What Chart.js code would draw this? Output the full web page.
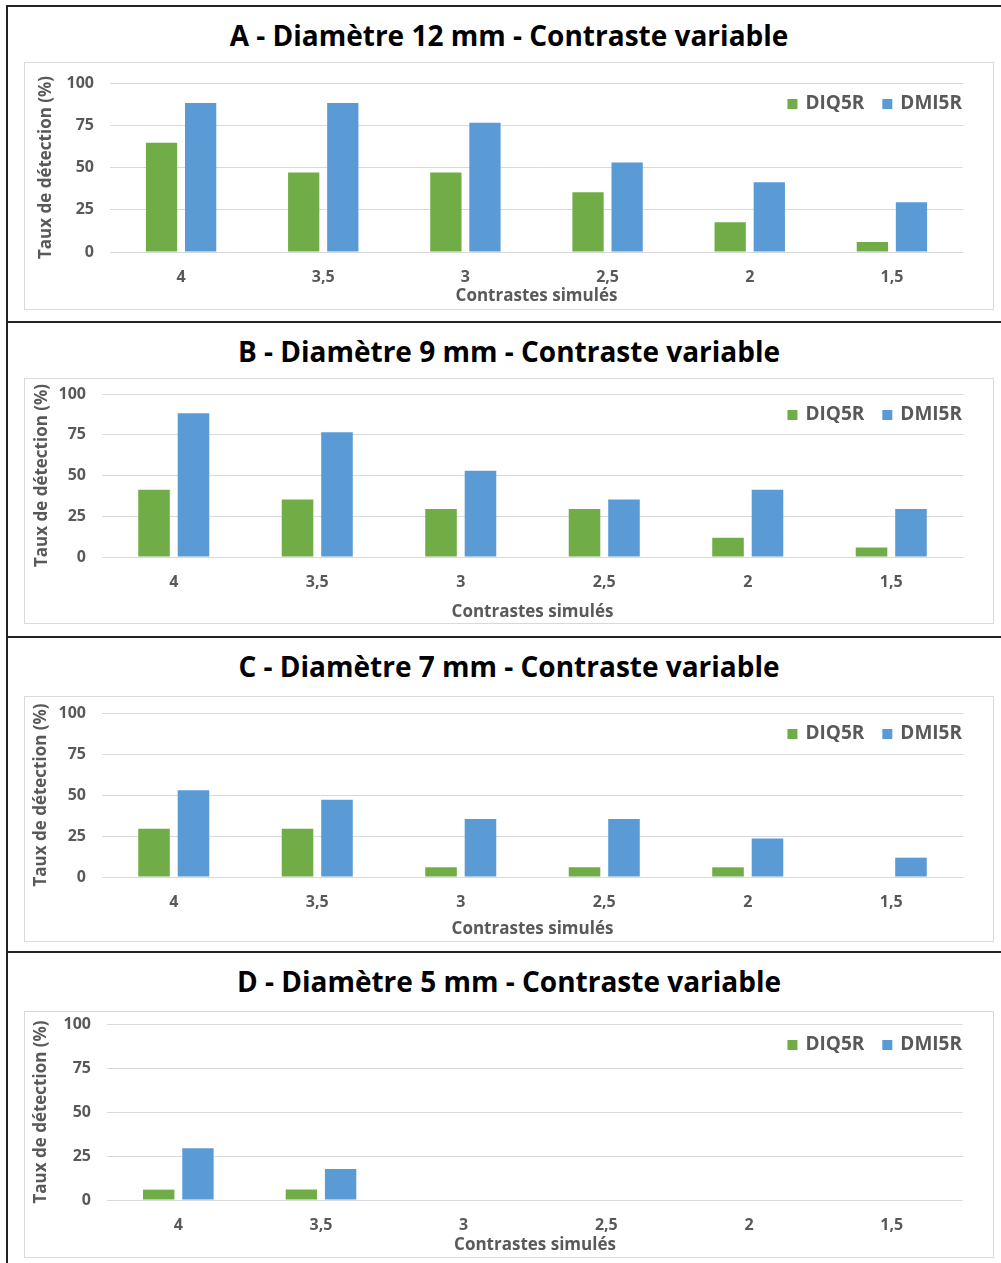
<!DOCTYPE html>
<html>
<head>
<meta charset="utf-8">
<script src="https://cdn.jsdelivr.net/npm/chart.js@4.4.1/dist/chart.umd.min.js"></script>
<style>
  body { margin: 0; background: #fff; width: 1001px; height: 1263px; position: relative; overflow: hidden; font-family: "Open Sans", sans-serif; }
  .panel { position: absolute; left: 6px; width: 995px; border-top: 2px solid #222; border-left: 2px solid #222; box-sizing: border-box; }
  .title { position: absolute; left: 24px; width: 970px; height: 30px; line-height: 30px; text-align: center; font-weight: 700; font-size: 28px; color: #000; white-space: nowrap; }
  .box { position: absolute; left: 24px; width: 970px; border: 1px solid #d9d9d9; box-sizing: border-box; }
  canvas { display: block; }
</style>
</head>
<body>
<script>
const categories = ["4", "3,5", "3", "2,5", "2", "1,5"];
const seriesNames = ["DIQ5R", "DMI5R"];
const seriesColors = ["#70ad47", "#5b9bd5"];
const titles = [
  "A - Diamètre 12 mm - Contraste variable",
  "B - Diamètre 9 mm - Contraste variable",
  "C - Diamètre 7 mm - Contraste variable",
  "D - Diamètre 5 mm - Contraste variable"
];
const yTitle = "Taux de détection (%)";
const xTitle = "Contrastes simulés";
const yMin = 0, yMax = 100, yStep = 25;

// detection rates (%), one pair per panel
const diq5rA = [64.7, 47.1, 47.1, 35.3, 17.6, 5.9];
const dmi5rA = [88.2, 88.2, 76.5, 52.9, 41.2, 29.4];
const diq5rB = [41.2, 35.3, 29.4, 29.4, 11.8, 5.9];
const dmi5rB = [88.2, 76.5, 52.9, 35.3, 41.2, 29.4];
const diq5rC = [29.4, 29.4, 5.9, 5.9, 5.9, 0];
const dmi5rC = [52.9, 47.1, 35.3, 35.3, 23.5, 11.8];
const diq5rD = [5.9, 5.9, 0, 0, 0, 0];
const dmi5rD = [29.4, 17.6, 0, 0, 0, 0];

const panelData = [[diq5rA, dmi5rA], [diq5rB, dmi5rB], [diq5rC, dmi5rC], [diq5rD, dmi5rD]];

// page layout of each panel (page pixels)
const layout = [
  { top: 5,   height: 317, titleY: 20,  boxTop: 62,   boxH: 248, plotL: 110, plotT: 83,   plotB: 252,  xTitleY: 296,  yTitleX: 46 },
  { top: 321, height: 316, titleY: 336, boxTop: 378,  boxH: 246, plotL: 102, plotT: 394,  plotB: 557,  xTitleY: 612,  yTitleX: 42 },
  { top: 636, height: 316, titleY: 651, boxTop: 696,  boxH: 246, plotL: 102, plotT: 713,  plotB: 877,  xTitleY: 929,  yTitleX: 41 },
  { top: 951, height: 320, titleY: 966, boxTop: 1011, boxH: 247, plotL: 107, plotT: 1024, plotB: 1200, xTitleY: 1245, yTitleX: 41 }
];

const grey = "#595959";
const gridColor = "#d9d9d9";
const tickFont = { family: "Open Sans", size: 16, weight: "700" };
const axisTitleFont = { family: "Open Sans", size: 17, weight: "700" };

const cornerLegend = {
  id: "cornerLegend",
  afterDraw(chart, args, opts) {
    const { ctx, chartArea } = chart;
    ctx.save();
    ctx.font = "700 19px 'Open Sans'";
    ctx.textBaseline = "middle";
    let x = chartArea.right - 1;
    const y = chartArea.top + opts.offset;
    chart.data.datasets.slice().reverse().forEach(ds => {
      const w = ctx.measureText(ds.label).width;
      x -= w;
      ctx.fillStyle = grey;
      ctx.fillText(ds.label, x, y);
      x -= 8 + 10;
      ctx.fillStyle = ds.backgroundColor;
      ctx.fillRect(x, y - 5, 10, 10);
      x -= 18;
    });
    ctx.restore();
  }
};

layout.forEach((L, i) => {
  let panel = document.createElement("div");
  panel.className = "panel";
  panel.style.top = L.top + "px";
  panel.style.height = L.height + "px";
  document.body.appendChild(panel);

  let title = document.createElement("div");
  title.className = "title";
  title.style.top = L.titleY + "px";
  title.textContent = titles[i];
  document.body.appendChild(title);

  let box = document.createElement("div");
  box.className = "box";
  box.style.top = L.boxTop + "px";
  box.style.height = L.boxH + "px";
  document.body.appendChild(box);

  // canvas coordinates
  const cx = 25, cy = L.boxTop + 1;
  const H = L.boxH - 2;
  const padTop = L.plotT - cy;
  const bottom = L.plotB - cy;
  const xAxisH = (L.xTitleY - L.plotB) + 10.2;
  const padBottom = H - bottom - xAxisH;
  const yAxisW = L.plotL - cx;
  const yTitlePad = (L.yTitleX - cx) - 10.2;

  let canvas = document.createElement("canvas");
  canvas.width = 968;
  canvas.height = H;
  canvas.style.width = "968px";
  canvas.style.height = H + "px";
  box.appendChild(canvas);

  new Chart(canvas, {
    type: "bar",
    data: {
      labels: categories,
      datasets: seriesNames.map((name, k) => ({
        label: name,
        data: panelData[i][k],
        backgroundColor: seriesColors[k],
        borderWidth: 0,
        categoryPercentage: 0.55,
        barPercentage: 0.8
      }))
    },
    options: {
      responsive: false,
      animation: false,
      layout: { padding: { top: padTop, right: 30, bottom: padBottom, left: 0 } },
      plugins: {
        legend: { display: false },
        tooltip: { enabled: false },
        cornerLegend: { offset: 21 }
      },
      scales: {
        x: {
          afterFit: s => { s.height = xAxisH; },
          grid: { display: false, drawTicks: false },
          border: { display: false },
          ticks: { color: grey, padding: 16, font: tickFont },
          title: {
            display: true, text: xTitle, color: grey,
            padding: { top: 0, bottom: 0 },
            font: axisTitleFont
          }
        },
        y: {
          min: yMin, max: yMax,
          afterFit: s => { s.width = yAxisW; s.paddingTop = 0; s.paddingBottom = 0; },
          grid: { color: gridColor, lineWidth: 1, drawTicks: false },
          border: { display: false },
          ticks: { stepSize: yStep, color: grey, padding: 16, font: tickFont },
          title: {
            display: true, text: yTitle, color: grey,
            padding: { top: yTitlePad, bottom: 0 },
            font: axisTitleFont
          }
        }
      }
    },
    plugins: [cornerLegend]
  });
});
</script>
</body>
</html>
